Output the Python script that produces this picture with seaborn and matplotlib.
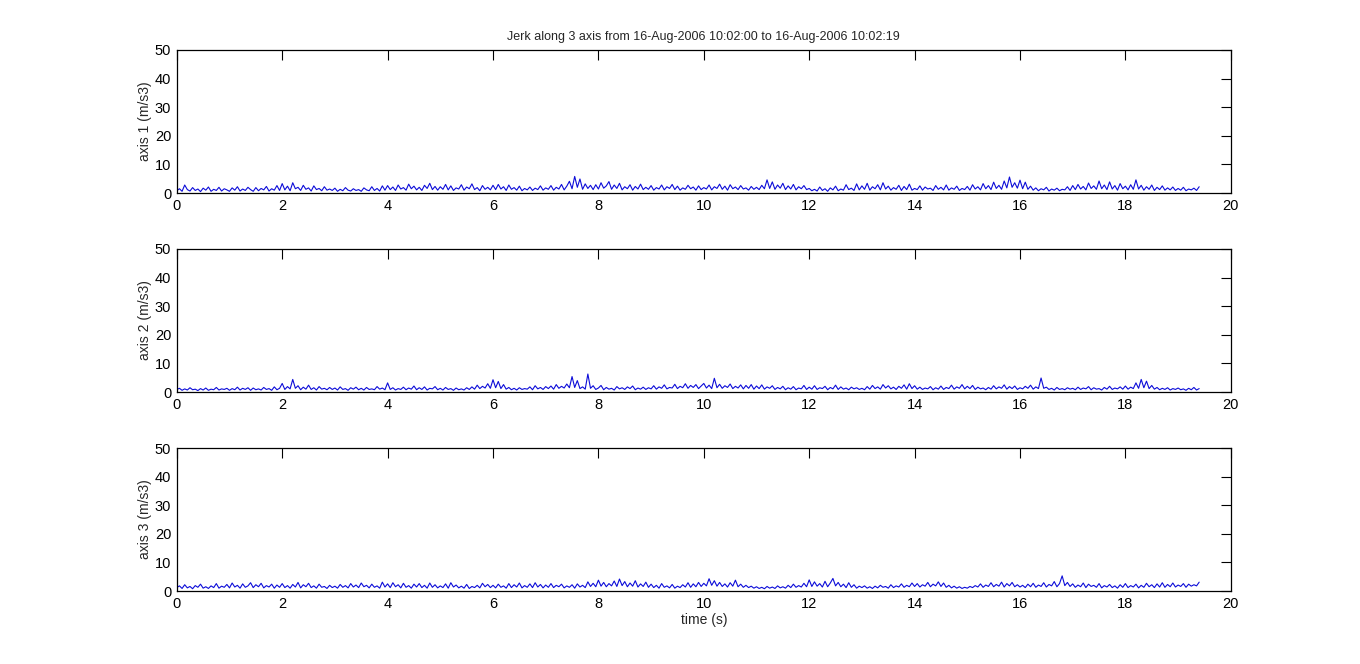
import numpy as np
import matplotlib
matplotlib.use("Agg")
import matplotlib.pyplot as plt
import seaborn as sns

# jerk values, one every 0.05 s (0 .. 19.4 s)
axis1_jerk = [
    0.8, 1.5, 0.6, 2.8, 1.2, 0.7, 1.9, 0.9, 1.4, 0.5, 1.7, 1.0, 2.1, 0.6, 1.3, 0.9, 2.0, 0.7, 1.5, 1.1,
    0.6, 1.8, 1.0, 2.2, 0.7, 1.4, 0.9, 2.0, 1.2, 0.6, 1.9, 0.8, 1.6, 1.1, 2.3, 0.7, 1.5, 1.0, 2.6, 0.9,
    3.3, 1.1, 2.4, 0.8, 3.6, 1.5, 2.0, 0.9, 2.7, 1.3, 1.8, 0.7, 2.5, 1.2, 1.6, 0.8, 2.2, 1.0, 1.4, 0.9,
    1.7, 0.6, 1.3, 0.8, 1.9, 1.0, 0.7, 1.5, 0.9, 1.2, 0.6, 1.8, 1.1, 0.8, 2.2, 0.9, 1.6, 0.7, 2.5, 1.0,
    2.6, 1.2, 2.1, 0.9, 2.8, 1.4, 1.9, 1.0, 3.1, 1.5, 2.4, 1.1, 2.0, 0.9, 2.7, 1.6, 3.4, 1.2, 2.3, 1.0,
    2.2, 1.3, 3.0, 1.1, 2.5, 0.9, 1.8, 1.4, 2.9, 1.0, 2.1, 1.5, 3.2, 1.2, 1.9, 0.8, 2.6, 1.3, 2.0, 1.1,
    2.7, 1.2, 3.0, 1.4, 2.2, 0.9, 2.8, 1.3, 1.9, 1.0, 2.4, 0.8, 1.6, 1.1, 2.1, 0.9, 1.7, 1.2, 2.5, 1.0,
    1.8, 1.3, 2.6, 1.0, 2.0, 1.4, 3.0, 1.1, 2.4, 4.1, 1.5, 5.8, 2.0, 4.9, 1.3, 3.2, 1.6, 2.7, 1.2, 2.9,
    1.4, 3.6, 1.7, 2.5, 4.0, 1.3, 2.8, 1.6, 3.4, 1.1, 2.2, 1.5, 2.9, 1.0, 2.3, 1.4, 3.1, 1.2, 2.0, 1.3,
    2.6, 1.0, 1.9, 1.4, 2.8, 1.1, 2.2, 1.6, 3.0, 1.2, 2.4, 1.0, 1.8, 1.3, 2.7, 1.5, 2.1, 1.0, 2.5, 1.2,
    1.9, 1.4, 2.8, 1.1, 2.2, 1.6, 3.1, 1.3, 2.4, 1.0, 2.9, 1.5, 2.1, 1.2, 2.6, 1.4, 1.8, 1.0, 2.3, 1.3,
    2.0, 1.2, 2.7, 1.5, 4.6, 1.6, 3.9, 1.3, 2.8, 1.7, 3.4, 1.2, 2.5, 1.4, 3.0, 1.1, 2.2, 1.5, 2.6, 1.2,
    1.6, 0.8, 1.3, 0.7, 2.1, 0.9, 1.5, 0.6, 1.8, 1.1, 2.4, 0.8, 1.4, 1.0, 2.9, 1.2, 1.7, 0.9, 3.2, 1.1,
    2.5, 1.3, 3.4, 1.0, 2.2, 1.5, 2.9, 1.1, 3.6, 1.4, 2.4, 1.0, 1.9, 1.3, 2.7, 0.9, 2.3, 1.2, 3.1, 1.0,
    1.6, 1.2, 2.5, 1.0, 2.1, 1.4, 1.7, 0.9, 2.6, 1.3, 2.0, 1.1, 2.8, 1.0, 1.8, 1.3, 2.4, 0.9, 1.6, 1.2,
    2.3, 1.0, 2.9, 1.4, 2.2, 1.1, 3.3, 1.5, 2.6, 1.2, 3.8, 1.6, 2.7, 1.3, 4.2, 1.8, 5.6, 2.0, 3.6, 1.7,
    4.5, 1.5, 3.8, 1.3, 2.4, 1.0, 1.8, 0.8, 1.5, 1.1, 2.0, 0.7, 1.4, 1.0, 1.7, 0.8, 1.3, 1.1, 2.2, 0.9,
    2.6, 1.2, 3.0, 1.4, 2.3, 1.1, 3.5, 1.6, 2.5, 1.3, 4.2, 1.5, 2.8, 1.2, 3.9, 1.4, 2.6, 1.0, 3.3, 1.5,
    2.4, 1.1, 2.9, 1.3, 4.6, 1.4, 2.7, 1.0, 2.2, 1.3, 2.8, 0.9, 2.0, 1.2, 2.5, 1.0, 1.8, 1.1, 2.1, 0.9,
    1.6, 1.0, 2.0, 0.8, 1.4, 1.1, 1.7, 0.9, 2.2,
]

axis2_jerk = [
    0.9, 1.3, 0.6, 1.1, 0.7, 1.5, 0.8, 1.0, 0.5, 1.2, 0.7, 1.4, 0.6, 1.0, 0.8, 1.6, 0.7, 1.1, 0.9, 1.3,
    0.6, 1.2, 0.8, 1.7, 0.7, 1.3, 0.9, 1.5, 0.6, 1.4, 0.8, 1.1, 0.7, 1.6, 0.9, 1.2, 0.6, 1.8, 0.8, 1.3,
    3.0, 0.9, 1.9, 1.1, 4.4, 1.3, 2.2, 0.8, 1.7, 1.0, 2.4, 0.9, 1.5, 0.7, 1.9, 1.0, 1.3, 0.8, 1.6, 0.9,
    1.4, 0.7, 1.8, 0.9, 1.2, 0.6, 1.5, 1.0, 1.7, 0.8, 1.3, 0.7, 1.6, 0.9, 1.1, 0.8, 1.9, 1.0, 1.4, 0.8,
    3.2, 0.9, 1.5, 0.7, 1.2, 0.9, 1.7, 0.8, 1.4, 1.0, 2.1, 0.8, 1.5, 0.9, 1.8, 0.7, 1.3, 1.1, 1.9, 0.8,
    1.3, 0.7, 1.6, 0.9, 1.2, 0.6, 1.4, 0.8, 1.1, 0.7, 1.5, 0.9, 1.8, 1.0, 2.4, 1.2, 2.0, 1.4, 2.9, 1.3,
    4.3, 1.5, 3.7, 1.2, 2.6, 1.0, 1.6, 0.8, 1.3, 0.7, 1.5, 0.9, 1.2, 1.0, 1.8, 0.8, 2.2, 1.1, 1.6, 0.9,
    1.9, 1.2, 2.1, 1.0, 2.6, 1.3, 2.0, 1.4, 2.8, 1.5, 5.4, 1.6, 4.0, 1.2, 1.8, 1.0, 6.3, 1.3, 2.2, 0.9,
    1.4, 2.3, 0.8, 1.6, 1.0, 1.3, 0.7, 1.9, 1.1, 1.5, 0.9, 1.8, 1.2, 2.1, 0.8, 1.4, 1.0, 1.7, 0.9, 1.5,
    1.1, 2.2, 1.0, 1.8, 1.3, 2.5, 1.1, 1.6, 1.4, 2.7, 1.2, 2.0, 1.5, 2.9, 1.3, 2.3, 1.6, 2.6, 1.2, 2.1,
    3.0, 1.4, 2.4, 1.2, 4.8, 1.5, 2.7, 1.3, 2.2, 1.6, 2.8, 1.2, 2.0, 1.4, 2.5, 1.1, 2.3, 1.3, 2.6, 1.0,
    2.1, 1.2, 2.5, 1.0, 1.8, 1.3, 2.2, 0.9, 1.6, 1.1, 2.0, 0.8, 1.5, 1.0, 1.9, 0.8, 1.4, 1.1, 2.3, 0.9,
    1.7, 1.0, 2.2, 0.9, 1.5, 1.2, 2.0, 0.8, 1.6, 1.1, 2.4, 0.9, 1.8, 1.0, 1.4, 0.8, 1.7, 1.1, 1.5, 0.9,
    1.3, 0.8, 1.9, 1.0, 2.3, 1.2, 1.8, 1.0, 2.6, 1.4, 2.2, 1.1, 1.7, 0.9, 2.0, 1.3, 2.5, 1.0, 2.9, 1.2,
    2.2, 1.0, 1.7, 0.9, 1.4, 1.1, 1.9, 0.8, 1.5, 1.0, 2.1, 0.9, 1.6, 1.2, 2.4, 1.0, 1.8, 1.3, 2.6, 1.1,
    2.0, 1.2, 2.3, 0.9, 1.7, 1.1, 1.4, 0.8, 1.6, 1.0, 2.2, 1.1, 1.8, 1.3, 2.5, 1.0, 1.9, 1.2, 2.1, 0.9,
    1.5, 1.1, 2.0, 1.3, 2.4, 1.0, 1.8, 1.2, 4.9, 1.3, 1.7, 0.9, 1.3, 0.7, 1.6, 0.9, 1.2, 0.8, 1.5, 1.0,
    1.3, 0.8, 1.7, 0.9, 1.4, 1.1, 1.9, 0.8, 1.5, 1.0, 1.2, 0.7, 1.6, 1.0, 2.0, 0.9, 1.4, 1.1, 1.8, 1.0,
    2.1, 1.0, 1.7, 1.2, 3.2, 1.3, 4.4, 1.5, 3.8, 1.2, 2.3, 1.0, 1.6, 0.8, 1.3, 0.9, 1.5, 0.7, 1.2, 0.9,
    1.4, 0.8, 1.1, 0.6, 1.3, 0.8, 1.6, 0.7, 1.2,
]

axis3_jerk = [
    1.2, 1.8, 0.9, 2.2, 1.1, 1.6, 0.8, 1.9, 1.3, 2.4, 1.0, 1.5, 0.9, 1.8, 1.2, 2.6, 1.0, 1.7, 1.3, 2.3,
    1.1, 2.8, 1.4, 2.0, 1.0, 2.5, 1.3, 1.8, 2.9, 1.2, 2.2, 1.5, 2.7, 1.1, 1.9, 1.4, 2.4, 1.0, 2.1, 1.3,
    2.6, 1.2, 1.9, 1.0, 2.3, 1.4, 3.0, 1.1, 2.2, 1.5, 2.7, 1.2, 1.8, 1.0, 2.4, 1.3, 1.6, 0.9, 2.0, 1.2,
    1.7, 1.0, 2.3, 1.3, 1.9, 1.1, 2.6, 1.4, 2.1, 1.2, 2.8, 1.5, 2.0, 1.1, 2.4, 1.3, 1.8, 1.0, 3.1, 1.4,
    2.5, 1.2, 2.9, 1.5, 2.2, 1.1, 2.7, 1.3, 1.9, 1.0, 2.4, 1.4, 2.6, 1.2, 2.0, 1.0, 2.8, 1.3, 2.2, 1.1,
    1.8, 1.2, 2.5, 1.0, 2.9, 1.4, 2.1, 1.1, 1.7, 1.0, 2.3, 0.9, 1.6, 1.2, 2.0, 1.1, 2.7, 1.5, 2.3, 1.2,
    2.0, 1.1, 2.4, 1.3, 1.8, 1.0, 2.6, 1.2, 2.2, 1.4, 2.8, 1.1, 1.9, 1.3, 2.5, 1.2, 2.9, 1.4, 2.3, 1.1,
    2.1, 1.3, 2.6, 1.2, 2.0, 1.5, 2.4, 1.1, 1.8, 1.3, 2.2, 1.0, 2.5, 1.4, 2.0, 1.2, 3.2, 1.6, 2.7, 1.5,
    3.8, 1.7, 3.0, 1.5, 2.6, 1.8, 3.5, 1.6, 4.2, 1.9, 3.3, 1.5, 2.8, 1.7, 3.6, 1.4, 2.5, 1.6, 3.1, 1.3,
    2.4, 1.2, 2.0, 1.0, 2.6, 1.3, 1.8, 1.1, 2.3, 1.0, 1.7, 1.2, 2.2, 1.4, 2.9, 1.3, 2.5, 1.5, 3.0, 1.6,
    2.7, 1.8, 4.3, 2.0, 3.6, 1.7, 3.0, 1.6, 2.5, 1.4, 2.9, 1.7, 3.8, 1.5, 2.4, 1.3, 2.0, 1.2, 1.7, 1.0,
    1.5, 0.9, 1.3, 0.8, 1.6, 1.0, 1.4, 0.9, 1.8, 1.1, 1.5, 1.0, 2.0, 1.2, 2.4, 1.3, 1.9, 1.4, 2.7, 1.5,
    3.9, 1.6, 3.2, 1.7, 2.6, 1.4, 3.4, 1.5, 2.8, 4.4, 1.8, 3.0, 1.5, 2.4, 1.2, 2.9, 1.3, 2.2, 1.0, 1.7,
    1.2, 1.8, 1.0, 1.5, 0.9, 1.7, 1.1, 2.0, 1.3, 1.6, 1.0, 2.2, 1.2, 1.8, 1.4, 2.5, 1.3, 2.0, 1.5, 2.8,
    1.6, 2.6, 1.4, 2.2, 1.7, 3.0, 1.5, 2.4, 1.8, 3.2, 1.6, 2.8, 1.3, 2.0, 1.1, 1.7, 1.0, 1.5, 0.9, 1.3,
    1.0, 1.6, 1.2, 1.9, 1.4, 2.5, 1.3, 2.1, 1.6, 2.9, 1.5, 2.3, 1.7, 3.1, 1.4, 2.6, 1.8, 3.0, 1.5, 2.2,
    1.4, 2.0, 1.2, 2.4, 1.5, 2.7, 1.3, 2.1, 1.6, 2.9, 1.4, 2.3, 1.8, 3.3, 1.5, 2.6, 5.3, 1.9, 3.0, 1.6,
    2.5, 1.3, 2.1, 1.5, 2.8, 1.2, 2.4, 1.6, 2.0, 1.3, 2.6, 1.1, 1.9, 1.4, 2.3, 1.2, 1.8, 1.0, 2.2, 1.3,
    2.6, 1.2, 1.9, 1.4, 2.4, 1.1, 2.0, 1.3, 2.7, 1.5, 2.2, 1.2, 2.5, 1.4, 2.9, 1.3, 2.3, 1.5, 2.8, 1.4,
    2.1, 1.6, 2.6, 1.3, 2.4, 1.7, 2.2, 1.8, 3.1,
]

series = [axis1_jerk, axis2_jerk, axis3_jerk]
y_labels = ["axis 1 (m/s3)", "axis 2 (m/s3)", "axis 3 (m/s3)"]
x_ticks = [0, 2, 4, 6, 8, 10, 12, 14, 16, 18, 20]
y_ticks = [0, 10, 20, 30, 40, 50]
title = "Jerk along 3 axis from 16-Aug-2006 10:02:00 to 16-Aug-2006 10:02:19"

sns.set_style("white")
plt.rcParams["font.family"] = ["Liberation Sans", "DejaVu Sans"]

fig = plt.figure(figsize=(13.6, 6.64), dpi=100)
boxes = [
    [0.130, 0.7093, 0.775, 0.2154],
    [0.130, 0.4096, 0.775, 0.2154],
    [0.130, 0.1099, 0.775, 0.2154],
]

for i, vals in enumerate(series):
    ax = fig.add_axes(boxes[i])
    t = np.linspace(0, 19.4, len(vals))
    sns.lineplot(x=t, y=vals, ax=ax, color="#0c0cd8", linewidth=0.8, estimator=None)
    ax.set_xlim(0, 20)
    ax.set_ylim(0, 50)
    ax.set_xticks(x_ticks)
    ax.set_yticks(y_ticks)
    ax.tick_params(direction="in", length=7, width=0.8, top=True, right=True,
                   labelsize=10.5, colors="black", pad=4)
    for sp in ax.spines.values():
        sp.set_color("black")
        sp.set_linewidth(0.9)
        sp.set_visible(True)
    ax.set_ylabel(y_labels[i], fontsize=10, labelpad=2)
    if i == 0:
        ax.set_title(title, fontsize=9, pad=7)
    if i == 2:
        ax.set_xlabel("time (s)", fontsize=10, labelpad=2)

fig.savefig("out.png", dpi=100, facecolor="white")
